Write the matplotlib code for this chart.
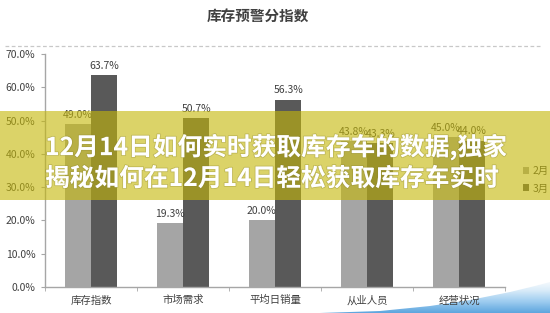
import numpy as np
import matplotlib
matplotlib.use("Agg")
import matplotlib.pyplot as plt
from matplotlib.patches import Rectangle, Polygon
from matplotlib.colors import LinearSegmentedColormap
from matplotlib import patheffects as pe

plt.rcParams['font.family'] = ['Noto Sans CJK SC', 'DejaVu Sans']

# ---- data ----
categories = ['库存指数', '市场需求', '平均日销量', '从业人员', '经营状况']
series_names = ['2月', '3月']
feb_values = [49.0, 19.3, 20.0, 43.8, 45.0]
mar_values = [63.7, 50.7, 56.3, 43.3, 44.0]
y_ticks = [0, 10, 20, 30, 40, 50, 60, 70]
chart_title = '库存预警分指数'
banner_lines = ['12月14日如何实时获取库存车的数据,独家',
                '揭秘如何在12月14日轻松获取库存车实时']

W, H = 550, 313
fig = plt.figure(figsize=(W / 100, H / 100), dpi=100, facecolor='white')

# decorative blue sweep in the lower right corner
bg = fig.add_axes([0, 0, 1, 1], zorder=-1)
bg.set_xlim(0, W)
bg.set_ylim(H, 0)
bg.axis('off')
grad = np.linspace(0, 1, 64).reshape(-1, 1)
cmap = LinearSegmentedColormap.from_list('sweep', ['#ffffff', '#dcedf9', '#9fcdf0', '#5ea6de'])
img = bg.imshow(grad, cmap=cmap, extent=[300, W, H, 278], aspect='auto', interpolation='bilinear')
edge_x = np.array([320, 380, 430, 470, 510, 535, 550])
edge_y = np.array([313, 311, 306, 300, 292, 286, 282])
poly = Polygon(np.column_stack([np.r_[edge_x, W, 320], np.r_[edge_y, H, H]]),
               closed=True, transform=bg.transData, facecolor='none', edgecolor='none')
bg.add_patch(poly)
img.set_clip_path(poly)

# ---- main bar chart ----
left, right, top, bottom = 45, 505, 54, 287
ax = fig.add_axes([left / W, 1 - bottom / H, (right - left) / W, (bottom - top) / H])
ax.set_facecolor('none')

x = np.arange(len(categories))
bw = 0.288
c_feb, c_mar = '#a5a5a5', '#595959'
b1 = ax.bar(x - bw / 2, feb_values, bw, color=c_feb, label=series_names[0], zorder=2)
b2 = ax.bar(x + bw / 2, mar_values, bw, color=c_mar, label=series_names[1], zorder=2)

for bars, vals in ((b1, feb_values), (b2, mar_values)):
    for rect, v in zip(bars, vals):
        ax.annotate(f'{v:.1f}%', (rect.get_x() + rect.get_width() / 2, v),
                    xytext=(0, 3), textcoords='offset points', ha='center', va='bottom',
                    fontsize=7.5, color='#404040')

ax.set_xlim(-0.5, len(categories) - 0.5)
ax.set_ylim(0, 70)
ax.set_yticks(y_ticks)
ax.set_yticklabels([f'{t:.1f}%' for t in y_ticks], fontsize=7.5, color='#404040')
ax.set_xticks(x)
ax.set_xticklabels(categories, fontsize=7.5, color='#404040')
ax.tick_params(axis='x', length=0, pad=6)
ax.set_xticks(np.arange(-0.5, len(categories)), minor=True)
ax.tick_params(axis='x', which='minor', length=3, color='#a6a6a6')
ax.tick_params(axis='y', length=3, color='#a6a6a6', pad=4)
for s in ('top', 'right'):
    ax.spines[s].set_visible(False)
for s in ('left', 'bottom'):
    ax.spines[s].set_color('#a6a6a6')
    ax.spines[s].set_linewidth(1.0)

leg = ax.legend(loc='center left', bbox_to_anchor=(1.03, 0.46), frameon=False,
                fontsize=7.5, handlelength=0.6, handleheight=0.6, labelspacing=0.7,
                handletextpad=0.3, borderaxespad=0)
for t in leg.get_texts():
    t.set_color('#404040')

# title and dashed separator
fig.text(258 / W, 1 - 17 / H, chart_title, ha='center', va='center',
         fontsize=10.5, fontweight='bold', color='#404040')
fig.add_artist(plt.Line2D([5 / W, 540 / W], [1 - 45.5 / H, 1 - 45.5 / H],
                          transform=fig.transFigure, color='#c8c8c8', lw=0.9,
                          linestyle=(0, (3, 2))))

# translucent headline band
band = Rectangle((0, 1 - 200 / H), 1, 89 / H, transform=fig.transFigure,
                 facecolor=(197 / 255, 184 / 255, 9 / 255), alpha=0.61,
                 edgecolor='none', zorder=10)
fig.add_artist(band)
for line, yc in zip(banner_lines, (147, 179)):
    fig.text(45 / W, 1 - yc / H, line, ha='left', va='center', fontsize=17.8,
             fontweight='bold', color='white', zorder=11,
             path_effects=[pe.withStroke(linewidth=1.2, foreground='#8a8330', alpha=0.35)])

fig.savefig('out.png', dpi=100, facecolor='white')
